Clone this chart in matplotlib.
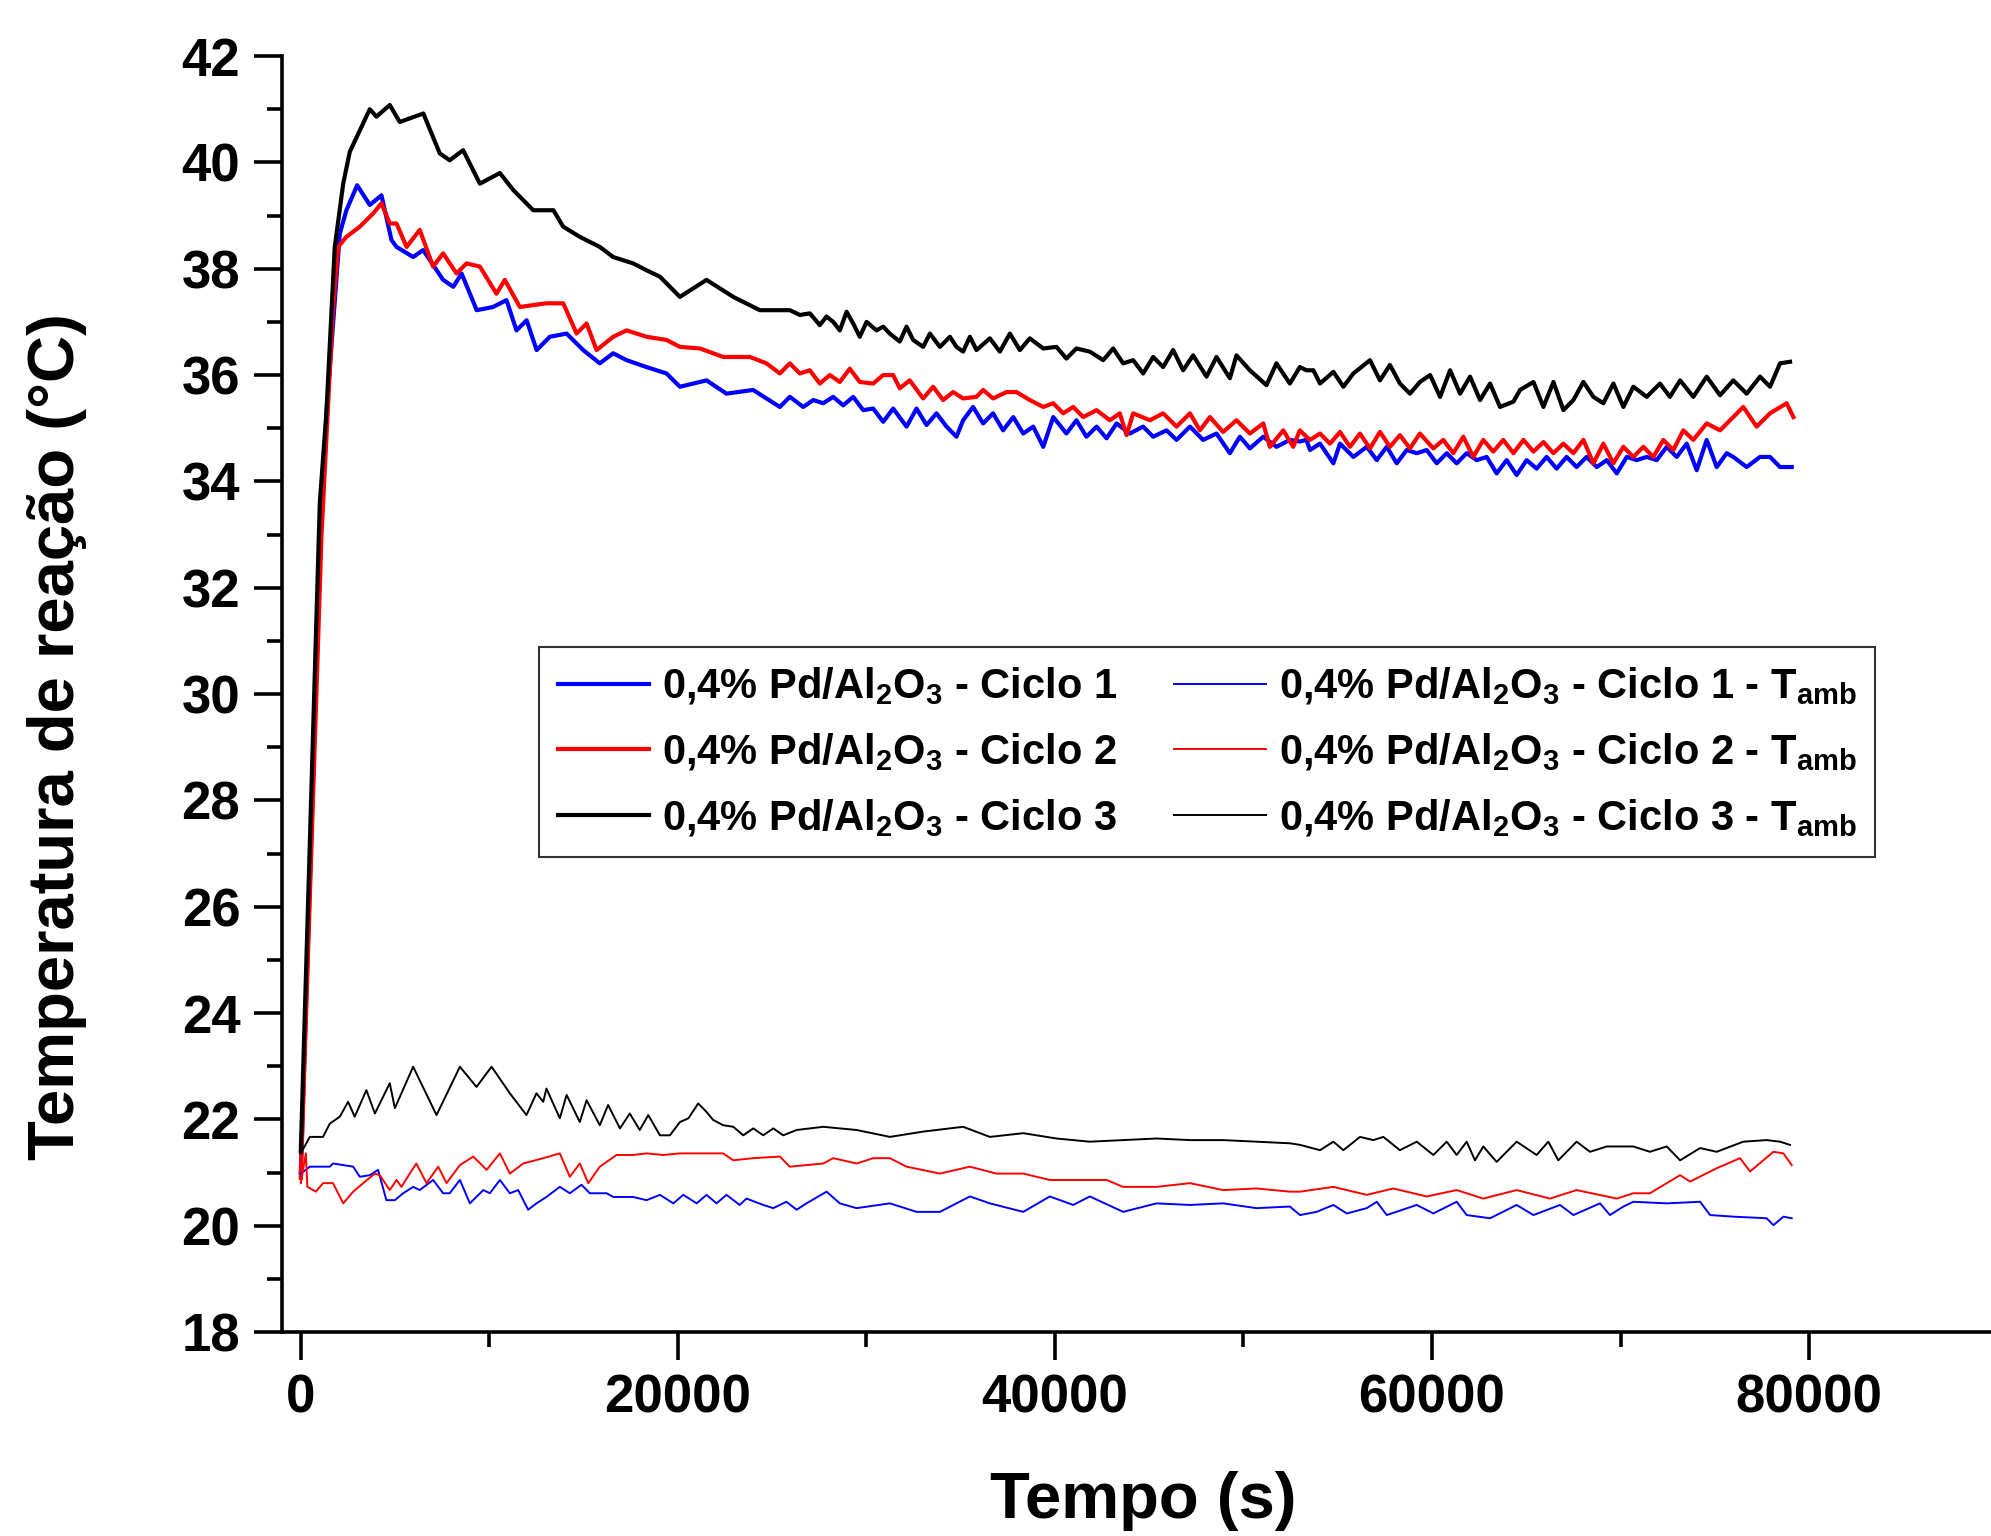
import matplotlib
matplotlib.use('Agg')
import matplotlib.pyplot as plt
from matplotlib.ticker import MultipleLocator

plt.rcParams['font.family'] = 'Liberation Sans'
plt.rcParams['font.weight'] = 'bold'
plt.rcParams['mathtext.fontset'] = 'custom'
plt.rcParams['mathtext.rm'] = 'Liberation Sans:bold'
plt.rcParams['mathtext.it'] = 'Liberation Sans:bold'
plt.rcParams['mathtext.bf'] = 'Liberation Sans:bold'

# reaction temperature, cycle 1 (blue)
c1_t = [0, 1100, 1360, 2070, 2420, 2990, 3660, 4280, 4810, 5080, 5960, 6490, 7550, 8090, 8530, 9330,
        10200, 10910, 11440, 11980, 12510, 13210, 14100, 14980, 15860, 16570, 17280, 18340, 19400,
        20110, 21520, 22580, 23990, 25410,
        25940, 26650, 27180, 27710, 28240, 28770, 29300, 29830, 30360, 30890, 31420, 32130, 32660,
        33190, 33720, 34250, 34780, 35130, 35660, 36190, 36720, 37250, 37790, 38320, 38850, 39380,
        39910, 40610, 41140, 41670, 42210, 42740, 43270, 43970, 44680, 45210, 45920, 46450, 47160,
        47860, 48570, 49280, 49810, 50340, 51050, 51750, 52460, 52990, 53340,
        53530, 54060, 54770, 55120, 55830, 56540, 57070, 57600, 58130, 58660, 59190, 59720, 60250,
        60780, 61310, 61840, 62370, 62900, 63430, 63960, 64490, 65020, 65550, 66080, 66610, 67140,
        67670, 68200, 68740, 69270, 69800, 70330, 70860, 71390, 71920, 72450, 72980, 73510, 74040,
        74570, 75100, 75630, 75980, 76690, 77400, 77930, 78460, 79080]
c1_T = [21.0, 33.5, 35.28, 38.66, 39.1, 39.57, 39.2, 39.38, 38.54, 38.41, 38.22, 38.35, 37.79, 37.66, 37.91, 37.22,
        37.28, 37.41, 36.84, 37.03, 36.47, 36.72, 36.78, 36.47, 36.22, 36.41, 36.28, 36.15, 36.03,
        35.78, 35.9, 35.65, 35.72, 35.4,
        35.59, 35.40, 35.53, 35.47, 35.59, 35.43, 35.59, 35.34, 35.37, 35.12, 35.37, 35.03, 35.37,
        35.06, 35.28, 35.03, 34.84, 35.15, 35.40, 35.09, 35.28, 34.96, 35.21, 34.90, 35.03, 34.65,
        35.21, 34.90, 35.15, 34.84, 35.03, 34.81, 35.09, 34.90, 35.03, 34.84, 34.96, 34.78, 35.03,
        34.78, 34.90, 34.53, 34.84, 34.62, 34.84, 34.65, 34.78, 34.75, 34.78,
        34.59, 34.71, 34.34, 34.71, 34.46, 34.65, 34.40, 34.65, 34.34, 34.59, 34.53, 34.59, 34.34,
        34.53, 34.34, 34.53, 34.40, 34.46, 34.15, 34.40, 34.12, 34.40, 34.24, 34.46, 34.24, 34.46,
        34.27, 34.46, 34.27, 34.40, 34.15, 34.46, 34.40, 34.46, 34.40, 34.65, 34.46, 34.71, 34.21,
        34.78, 34.27, 34.53, 34.46, 34.27, 34.46, 34.46, 34.27, 34.27]

# reaction temperature, cycle 2 (red)
c2_t = [0, 1100, 1700, 1980, 2420, 3130, 3840, 4280, 4720, 5080, 5610, 6310, 7020, 7550, 8260, 8790,
        9500, 10380, 10820, 11620, 13030, 13920, 14630, 15160, 15690, 16570, 17280, 18340, 19400,
        20110, 21170, 22410, 23820, 24700, 25410,
        25940, 26470, 27000, 27530, 28060, 28590, 29120, 29650, 30360, 30890, 31420, 31770, 32300,
        33010, 33540, 34070, 34600, 35130, 35840, 36190, 36720, 37430, 37960, 38670, 39380, 39910,
        40440, 40970, 41500, 42210, 42910, 43440, 43800, 44150, 45040, 45740, 46450, 47160, 47690,
        48220, 48920, 49630, 50340, 51050, 51400, 52110, 52640, 52990, 53340,
        53530, 54060, 54590, 55120, 55650, 56180, 56710, 57240, 57770, 58300, 58830, 59360, 60070,
        60600, 61130, 61660, 62190, 62720, 63250, 63780, 64320, 64850, 65380, 65910, 66440, 66970,
        67500, 68030, 68560, 69090, 69620, 70150, 70680, 71210, 71740, 72270, 72800, 73330, 73860,
        74570, 75280, 75980, 76510, 77220, 77930, 78810, 79170]
c2_T = [20.9, 33.0, 37.2, 38.41, 38.6, 38.79, 39.04, 39.23, 38.85, 38.85, 38.41, 38.73, 38.04, 38.29, 37.91, 38.1,
        38.04, 37.53, 37.79, 37.28, 37.35, 37.35, 36.78, 36.97, 36.47, 36.72, 36.84, 36.72, 36.66,
        36.53, 36.5, 36.34, 36.34, 36.22, 36.03,
        36.22, 36.03, 36.09, 35.84, 36.00, 35.87, 36.12, 35.87, 35.84, 36.00, 36.00, 35.75, 35.90,
        35.56, 35.78, 35.53, 35.68, 35.56, 35.59, 35.72, 35.56, 35.68, 35.68, 35.53, 35.40, 35.47,
        35.28, 35.40, 35.21, 35.34, 35.15, 35.28, 34.87, 35.28, 35.15, 35.28, 35.03, 35.28, 34.96,
        35.21, 34.93, 35.15, 34.90, 35.09, 34.65, 34.96, 34.65, 34.96, 34.84,
        34.78, 34.90, 34.71, 34.93, 34.65, 34.90, 34.62, 34.93, 34.65, 34.87, 34.62, 34.90, 34.62,
        34.78, 34.53, 34.84, 34.46, 34.78, 34.56, 34.78, 34.53, 34.78, 34.56, 34.74, 34.53, 34.71,
        34.53, 34.78, 34.34, 34.71, 34.34, 34.65, 34.46, 34.65, 34.46, 34.78, 34.59, 34.96, 34.78,
        35.09, 34.96, 35.21, 35.40, 35.03, 35.28, 35.47, 35.21]

# reaction temperature, cycle 3 (black)
c3_t = [0, 1010, 1360, 1800, 2250, 2600, 3660, 4015, 4720, 5250, 6500, 7370, 7900, 8610, 9500, 10560,
        11270, 12330, 13400, 13920, 14800, 15860, 16570, 17630, 18340, 19050, 20110, 21520, 22940,
        24350, 25410,
        25940, 26470, 27000, 27530, 27880, 28240, 28590, 28950, 29300, 29650, 30010, 30540, 30890,
        31240, 31770, 32130, 32480, 33010, 33370, 33900, 34430, 34780, 35130, 35490, 35840, 36550,
        37080, 37610, 38140, 38670, 39380, 40080, 40610, 41140, 41850, 42560, 43090, 43620, 44150,
        44680, 45210, 45740, 46270, 46800, 47330, 48040, 48570, 49280, 49630, 50340, 51220, 51750,
        52460, 52990, 53340,
        53710, 54060, 54770, 55300, 55830, 56710, 57240, 57770, 58300, 58830, 59360, 59900, 60430,
        60960, 61490, 62020, 62550, 63080, 63610, 64320, 64670, 65380, 65910, 66440, 66970, 67500,
        68030, 68560, 69090, 69620, 70150, 70680, 71390, 72090, 72620, 73160, 73860, 74570, 75280,
        75980, 76690, 77400, 77930, 78460, 78990]
c3_T = [21.4, 33.6, 35.3, 38.4, 39.6, 40.2, 41.0, 40.86, 41.08, 40.76, 40.92, 40.17, 40.04, 40.23, 39.6, 39.8,
        39.48, 39.1, 39.1, 38.79, 38.6, 38.41, 38.22, 38.1, 37.97, 37.85, 37.47, 37.79, 37.47,
        37.22, 37.22,
        37.22, 37.13, 37.16, 36.94, 37.10, 37.00, 36.84, 37.19, 36.97, 36.72, 37.00, 36.84, 36.91,
        36.78, 36.63, 36.91, 36.66, 36.53, 36.78, 36.53, 36.72, 36.53, 36.44, 36.72, 36.47, 36.69,
        36.44, 36.78, 36.47, 36.69, 36.50, 36.53, 36.31, 36.50, 36.44, 36.28, 36.50, 36.22, 36.28,
        36.03, 36.34, 36.15, 36.47, 36.09, 36.37, 35.97, 36.34, 35.94, 36.37, 36.09, 35.81, 36.22,
        35.84, 36.15, 36.09,
        36.09, 35.84, 36.06, 35.78, 36.03, 36.28, 35.90, 36.19, 35.84, 35.65, 35.87, 36.00, 35.59,
        36.09, 35.65, 35.97, 35.53, 35.84, 35.40, 35.50, 35.72, 35.87, 35.40, 35.87, 35.34, 35.53,
        35.87, 35.59, 35.47, 35.84, 35.40, 35.78, 35.59, 35.84, 35.59, 35.90, 35.59, 35.97, 35.62,
        35.90, 35.65, 35.97, 35.78, 36.22, 36.25]

# ambient temperature, cycle 1
a1_t = [0, 480, 1540, 1710, 2780, 3130, 3660, 4100, 4540, 4990, 5430, 5960, 6310, 7020, 7550, 7900,
        8440, 8970, 9680, 10030, 10560, 11090, 11530, 12060, 12500, 13030, 13740, 14270, 14890, 15330,
        16220, 16570, 17630, 18340, 19050, 19760, 20290, 21000, 21520, 22050, 22580, 23280, 23640,
        24530, 25060, 25760, 26300, 26820, 27890, 28590, 29480, 31250, 32660, 33900, 35490, 36550,
        38320, 39730, 40970, 41850, 43620, 45390, 47160, 48920, 50690, 52460, 53000, 53880, 54770,
        55480, 56540, 57070, 57600, 59190, 60070, 61310, 61840, 63080, 64490, 65380, 66790, 67500,
        68910, 69440, 70150, 70680, 72450, 74220, 74750, 75980, 77750, 78110, 78640, 79080]
a1_T = [20.98, 21.11, 21.11, 21.17, 21.11, 20.92, 20.95, 21.05, 20.48, 20.48, 20.61, 20.73, 20.67, 20.86, 20.61, 20.61,
        20.86, 20.42, 20.67, 20.61, 20.86, 20.61, 20.67, 20.30, 20.42, 20.54, 20.73, 20.61, 20.77, 20.61,
        20.61, 20.54, 20.54, 20.48, 20.58, 20.42, 20.58, 20.42, 20.58, 20.42, 20.58, 20.39, 20.51,
        20.39, 20.33, 20.45, 20.30, 20.42, 20.64, 20.42, 20.33, 20.42, 20.26, 20.26, 20.55, 20.42,
        20.26, 20.55, 20.39, 20.55, 20.26, 20.42, 20.39, 20.42, 20.33, 20.36, 20.20, 20.26, 20.39,
        20.23, 20.33, 20.45, 20.20, 20.39, 20.23, 20.45, 20.20, 20.14, 20.39, 20.20, 20.39, 20.20,
        20.42, 20.20, 20.36, 20.45, 20.42, 20.45, 20.20, 20.17, 20.14, 20.01, 20.17, 20.14]

# ambient temperature, cycle 2
a2_t = [0, 270, 350, 800, 1180, 1710, 2250, 2780, 3310, 3930, 4190, 4720, 5080, 5340, 5780, 6130,
        6670, 7290, 7730, 8440, 9150, 9860, 10560, 11090, 11800, 12860, 13740, 14270, 14800, 15250,
        15860, 16750, 17630, 18340, 19230, 20110, 21170, 22400, 22940, 24000, 25410, 25940, 27710,
        28240, 29480, 30360, 31250, 32130, 33900, 35490, 36900, 38320, 39730, 40970, 42740, 43620,
        45390, 47160, 48920, 50690, 52460, 53000, 54770, 56540, 57950, 59720, 61310, 62720, 64490,
        66260, 67670, 69800, 70680, 71560, 72450, 73160, 73690, 75100, 76340, 76870, 78110, 78640, 79080]
a2_T = [20.80, 21.36, 20.73, 20.64, 20.80, 20.80, 20.42, 20.64, 20.80, 20.98, 20.95, 20.67, 20.86, 20.73, 20.98, 21.17,
        20.80, 21.11, 20.80, 21.14, 21.30, 21.05, 21.36, 20.98, 21.17, 21.27, 21.36, 20.92, 21.17, 20.80,
        21.11, 21.33, 21.33, 21.36, 21.33, 21.36, 21.36, 21.36, 21.23, 21.27, 21.30, 21.11, 21.17,
        21.27, 21.17, 21.27, 21.27, 21.11, 20.98, 21.11, 20.98, 20.98, 20.86, 20.86, 20.86, 20.73,
        20.73, 20.80, 20.67, 20.70, 20.64, 20.64, 20.73, 20.58, 20.70, 20.55, 20.67, 20.51, 20.67,
        20.51, 20.67, 20.51, 20.61, 20.61, 20.80, 20.95, 20.83, 21.08, 21.27, 21.02, 21.39, 21.36, 21.14]

# ambient temperature, cycle 3
a3_t = [0, 480, 1180, 1540, 2070, 2510, 2860, 3480, 3930, 4720, 4990, 5960, 7200, 8440, 9320, 10120,
        11090, 11970, 12500, 12860, 13030, 13740, 14100, 14800, 15160, 15860, 16300, 16930, 17450,
        17980, 18430, 19050, 19580, 20110, 20560, 21080, 21520, 21870, 22400, 22940, 23470, 24000,
        24530, 25060, 25590, 26300, 27710, 29480, 31250, 33010, 35130, 36550, 38320, 40080, 41850,
        43620, 45390, 47160, 48920, 50690, 52460, 53000, 54060, 54770, 55300, 56180, 56890, 57420,
        58300, 59190, 60070, 60780, 61310, 61840, 62280, 62720, 63430, 64490, 65550, 66170, 66700,
        67670, 68380, 69270, 70680, 71560, 72450, 73160, 74220, 75100, 76510, 77750, 78460, 78990]
a3_T = [21.36, 21.67, 21.67, 21.92, 22.05, 22.33, 22.05, 22.55, 22.11, 22.68, 22.21, 22.99, 22.08, 22.99, 22.61, 22.99,
        22.49, 22.08, 22.49, 22.33, 22.58, 22.02, 22.46, 21.95, 22.36, 21.89, 22.27, 21.83, 22.11,
        21.80, 22.08, 21.70, 21.70, 21.95, 22.02, 22.30, 22.14, 21.99, 21.89, 21.86, 21.70, 21.83,
        21.70, 21.83, 21.70, 21.80, 21.86, 21.80, 21.67, 21.77, 21.86, 21.67, 21.74, 21.64, 21.58,
        21.61, 21.64, 21.61, 21.61, 21.58, 21.55, 21.52, 21.42, 21.58, 21.42, 21.67, 21.61, 21.67,
        21.42, 21.58, 21.33, 21.58, 21.33, 21.58, 21.23, 21.49, 21.20, 21.58, 21.33, 21.58, 21.23,
        21.58, 21.39, 21.49, 21.49, 21.39, 21.49, 21.23, 21.46, 21.39, 21.58, 21.61, 21.58, 21.52]

labels = ['0,4% Pd/Al$_2$O$_3$ - Ciclo 1',
          '0,4% Pd/Al$_2$O$_3$ - Ciclo 2',
          '0,4% Pd/Al$_2$O$_3$ - Ciclo 3',
          '0,4% Pd/Al$_2$O$_3$ - Ciclo 1 - T$_{\\mathrm{amb}}$',
          '0,4% Pd/Al$_2$O$_3$ - Ciclo 2 - T$_{\\mathrm{amb}}$',
          '0,4% Pd/Al$_2$O$_3$ - Ciclo 3 - T$_{\\mathrm{amb}}$']

fig = plt.figure(figsize=(19.91, 15.36), dpi=100)
ax = fig.add_axes([0.1416, 0.1328, 0.8584, 0.8307])

lines = []
lines += ax.plot(c1_t, c1_T, color='#0000ff', lw=3.0)
lines += ax.plot(c2_t, c2_T, color='#ff0000', lw=3.0)
lines += ax.plot(c3_t, c3_T, color='black', lw=3.0)
lines += ax.plot(a1_t, a1_T, color='#0000ff', lw=1.4)
lines += ax.plot(a2_t, a2_T, color='#ff0000', lw=1.4)
lines += ax.plot(a3_t, a3_T, color='black', lw=1.4)

ax.set_xlim(-1000, 89650)
ax.set_ylim(18, 42)
ax.set_xticks([0, 20000, 40000, 60000, 80000])
ax.set_xticks([10000, 30000, 50000, 70000], minor=True)
ax.yaxis.set_major_locator(MultipleLocator(2))
ax.yaxis.set_minor_locator(MultipleLocator(1))

for s in ['top', 'right']:
    ax.spines[s].set_visible(False)
for s in ['left', 'bottom']:
    ax.spines[s].set_linewidth(2.6)

ax.tick_params(which='major', direction='out', length=20, width=2.6, labelsize=38, pad=10)
ax.tick_params(which='minor', direction='out', length=11, width=2.6)
for lbl in ax.get_xticklabels() + ax.get_yticklabels():
    lbl.set_fontweight('bold')

fig.text(0.0286, 0.5205, 'Temperatura de reação (°C)', rotation=90, ha='center', va='center',
         fontsize=47, fontweight='bold')
fig.text(0.574, 0.012, 'Tempo (s)', ha='center', va='baseline', fontsize=47, fontweight='bold')

leg = ax.legend(lines, labels, ncol=2, loc='upper left', bbox_to_anchor=(0.2707, 0.5788),
                bbox_transform=fig.transFigure, fontsize=30, frameon=True, fancybox=False,
                edgecolor='#333333', framealpha=1, handlelength=2.2, handletextpad=0.3,
                columnspacing=1.38, labelspacing=0.57, borderpad=0.45, borderaxespad=0)
leg.get_frame().set_linewidth(1.5)

fig.savefig('out.png', dpi=100)
